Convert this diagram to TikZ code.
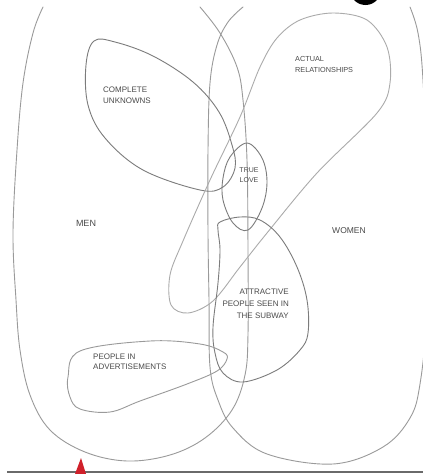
\documentclass[tikz,border=0pt]{standalone}
\usepackage{fontspec}
\setmainfont{Liberation Sans}
\definecolor{penA}{HTML}{9A9A9A}
\definecolor{penB}{HTML}{7C7C7C}
\definecolor{penC}{HTML}{ABABAB}
\definecolor{inkT}{HTML}{4A4A4A}
\definecolor{redT}{HTML}{D0202A}
\definecolor{rule}{HTML}{6A6A6A}
\tikzset{
  pen/.style={draw=penA, line width=0.9pt, line join=round, line cap=round},
  lbl/.style={text=inkT, font=\fontsize{8}{11}\selectfont, inner sep=0pt},
}
\begin{document}
\begin{tikzpicture}[x=1pt,y=-1pt]
\useasboundingbox[fill=white] (0,0) rectangle (423,474);
\begin{scope}
\clip (0,0) rectangle (423,474);
\fill[black] (365.5,-10.7) circle (15.7pt);
% MEN
\draw[pen] plot[smooth, tension=0.6] coordinates {(43,7) (33,33) (23,83) (17,150) (13,233) (16,300) (20,350) (30,395) (50,430) (85,452) (127,461) (170,455) (205,438) (232,410) (245,375) (248,334) (248,250) (247,160) (243,100) (237,67) (220,33) (200,7)};
% WOMEN
\draw[pen] plot[smooth, tension=0.6] coordinates {(243,7) (228,22) (217,45) (210,83) (208,150) (208,233) (209,300) (210,367) (218,400) (233,428) (267,454) (333,464) (383,447) (410,418) (420,384) (426,320) (428,200) (423,80) (418,33) (410,7)};
% COMPLETE UNKNOWNS
\draw[pen, draw=penB] plot[smooth cycle, tension=0.6] coordinates {(94,41) (86,65) (88,105) (105,138) (143,170) (200,190) (223,187) (235,168) (232,145) (219,112) (193,82) (153,56) (115,42)};
% TRUE LOVE
\draw[pen, draw=penB] plot[smooth cycle, tension=0.6] coordinates {(247,143) (262,158) (267,182) (262,208) (248,230) (233,223) (223,200) (223,178) (230,157)};
% ACTUAL RELATIONSHIPS
\draw[pen, draw=penC] plot[smooth cycle, tension=0.55] coordinates {(277,38) (300,20) (333,13) (367,20) (387,47) (390,83) (377,113) (317,173) (267,233) (240,267) (213,301) (188,313) (171,305) (170,275) (183,241) (210,180) (240,117) (260,67)};
% ATTRACTIVE PEOPLE
\draw[pen, draw=penB] plot[smooth cycle, tension=0.6] coordinates {(220,222) (240,217) (260,220) (280,237) (297,267) (307,300) (308,333) (300,350) (277,370) (243,382) (223,373) (215,353) (213,327) (218,283) (220,250) (218,230)};
% PEOPLE IN ADVERTISEMENTS
\draw[pen] plot[smooth cycle, tension=0.6] coordinates {(68,377) (80,351) (150,341) (200,344) (223,352) (227,359) (217,371) (187,384) (140,401) (110,412) (80,409) (70,397)};
\end{scope}
% labels
\node[lbl, anchor=west, align=left] (cu) at (103,95) {COMPLETE\\UNKNOWNS};
\node[lbl, anchor=west, align=left, font=\fontsize{7.3}{11}\selectfont] (ar) at (295,64.5) {ACTUAL\\RELATIONSHIPS};
\node[lbl, align=center, font=\fontsize{7}{10}\selectfont] (tl) at (249,175) {TRUE\\LOVE};
\node[lbl, font=\fontsize{9}{11}\selectfont] (men) at (86,223) {MEN};
\node[lbl, font=\fontsize{8.5}{11}\selectfont] (women) at (349,231) {WOMEN};
\node[lbl, anchor=east, align=right, font=\fontsize{8}{12}\selectfont] (ap) at (289,304) {ATTRACTIVE\\PEOPLE SEEN IN\\THE SUBWAY};
\node[lbl, anchor=west, align=left, font=\fontsize{8}{9.5}\selectfont] (pa) at (93,361.5) {PEOPLE IN\\ADVERTISEMENTS};
% bottom rule and marker
\coordinate (r0) at (7,472);
\coordinate (r1) at (423,472);
\draw[rule, line width=1.5pt] (r0) -- (r1);
\fill[redT] (75,474) -- (81,458) -- (86,474) -- cycle;
\end{tikzpicture}
\end{document}
